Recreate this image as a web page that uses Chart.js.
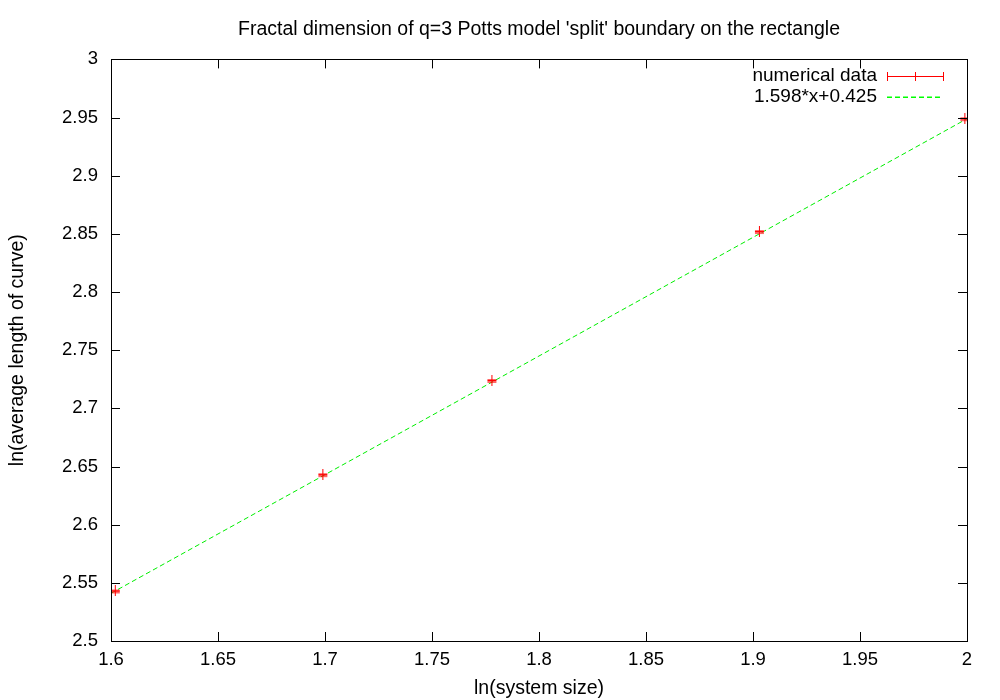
<!DOCTYPE html>
<html><head><meta charset="utf-8">
<script src="https://cdn.jsdelivr.net/npm/chart.js@4"></script>
<style>html,body{margin:0;padding:0;background:#fff}canvas{display:block}</style>
</head><body><canvas id="c" width="1000" height="700"></canvas>
<script>
const chartTitle = "Fractal dimension of q=3 Potts model 'split' boundary on the rectangle";
const xTitle = "ln(system size)";
const yTitle = "ln(average length of curve)";
const seriesNames = ["numerical data", "1.598*x+0.425"];
const dataX = [1.602, 1.699, 1.778, 1.903, 1.999];
const dataY = [2.543, 2.643, 2.724, 2.852, 2.949];
const fitX = [1.6, 2.0];
const fitY = [2.541, 2.949];
const xTicks = [1.6, 1.65, 1.7, 1.75, 1.8, 1.85, 1.9, 1.95, 2];
const yTicks = [2.5, 2.55, 2.6, 2.65, 2.7, 2.75, 2.8, 2.85, 2.9, 2.95, 3];

const FONT = "'Liberation Sans', Arial, Helvetica, sans-serif";

// marker: small red error-bar style cross
const mk = document.createElement('canvas');
mk.width = 11; mk.height = 11;
(function(){
  const c = mk.getContext('2d');
  c.fillStyle = 'rgba(255,0,0,0.6)';
  c.fillRect(1, 4, 9, 4);
  c.fillStyle = '#ff0000';
  c.fillRect(5, 0, 1, 11);
  c.fillRect(1, 5, 9, 1);
})();

const centerTitle = {
  id: 'centerTitle',
  afterLayout(chart) {
    const t = chart.titleBlock, a = chart.chartArea;
    if (t && a) { t.left = a.left; t.right = a.right; t.width = a.right - a.left; }
  }
};

const frame = {
  id: 'frame',
  afterDatasetsDraw(chart) {
    const {ctx, chartArea: a, scales} = chart;
    ctx.save();
    ctx.strokeStyle = '#000';
    ctx.lineWidth = 1;
    ctx.beginPath();
    const L = 9;
    xTicks.forEach(v => {
      const px = Math.round(scales.x.getPixelForValue(v)) + 0.5;
      ctx.moveTo(px, a.bottom); ctx.lineTo(px, a.bottom - L);
      ctx.moveTo(px, a.top); ctx.lineTo(px, a.top + L);
    });
    yTicks.forEach(v => {
      const py = Math.round(scales.y.getPixelForValue(v)) + 0.5;
      ctx.moveTo(a.left, py); ctx.lineTo(a.left + L, py);
      ctx.moveTo(a.right, py); ctx.lineTo(a.right - L, py);
    });
    ctx.stroke();
    ctx.strokeRect(Math.round(a.left)+0.5, Math.round(a.top)+0.5, Math.round(a.right-a.left), Math.round(a.bottom-a.top));
    // legend
    ctx.font = '19px ' + FONT;
    ctx.fillStyle = '#000';
    ctx.textAlign = 'right';
    ctx.textBaseline = 'middle';
    const tx = 877, x0 = 887, x1 = 943, y0 = 76, y1 = 97;
    ctx.fillText(seriesNames[0], tx, y0);
    ctx.fillText(seriesNames[1], tx, y1);
    ctx.fillStyle = '#ff0000';
    ctx.fillRect(x0, y0, x1 - x0 + 1, 1);
    ctx.fillRect(x0, y0 - 4, 1, 9);
    ctx.fillRect(x1, y0 - 4, 1, 9);
    ctx.fillRect(915, y0 - 4, 1, 9);
    ctx.fillStyle = '#00ff00';
    for (let x = x0; x < x1; x += 8) {
      ctx.fillRect(x, y1 - 0.5, Math.min(5, x1 - x), 1.5);
    }
    ctx.restore();
  }
};

new Chart(document.getElementById('c'), {
  type: 'scatter',
  data: {
    datasets: [
      {
        label: seriesNames[1],
        type: 'line',
        data: fitX.map((x, i) => ({x, y: fitY[i]})),
        borderColor: '#00ee00',
        borderWidth: 1,
        borderDash: [5, 3],
        pointRadius: 0,
        fill: false,
        order: 2
      },
      {
        label: seriesNames[0],
        data: dataX.map((x, i) => ({x, y: dataY[i]})),
        pointStyle: mk,
        pointRadius: 5,
        order: 1
      }
    ]
  },
  options: {
    responsive: false,
    maintainAspectRatio: false,
    animation: false,
    devicePixelRatio: 1,
    layout: { padding: { left: 0, right: 33, top: 0, bottom: 0 } },
    plugins: {
      legend: { display: false },
      tooltip: { enabled: false },
      title: {
        display: true,
        text: chartTitle,
        color: '#000',
        font: { family: FONT, size: 19.5, weight: 'normal' },
        padding: { top: 18, bottom: 18 }
      }
    },
    scales: {
      x: {
        type: 'linear', min: 1.6, max: 2,
        afterFit: s => { s.height = 59; },
        afterBuildTicks: s => { s.ticks = xTicks.map(v => ({value: v})); },
        grid: { display: false, drawTicks: false },
        border: { display: false },
        ticks: { color: '#000', padding: 8, autoSkip: false, font: { family: FONT, size: 18.5 }, maxRotation: 0, callback: v => String(+v.toFixed(2)) },
        title: { display: true, text: xTitle, color: '#000', font: { family: FONT, size: 19.5 }, padding: { top: 2, bottom: 0 } }
      },
      y: {
        type: 'linear', min: 2.5, max: 3,
        afterFit: s => { s.width = 111; },
        afterBuildTicks: s => { s.ticks = yTicks.map(v => ({value: v})); },
        grid: { display: false, drawTicks: false },
        border: { display: false },
        ticks: { color: '#000', padding: 13, autoSkip: false, font: { family: FONT, size: 18.5 }, callback: v => String(+v.toFixed(2)) },
        title: { display: true, text: yTitle, color: '#000', font: { family: FONT, size: 19.5 }, padding: { top: 6, bottom: 2 } }
      }
    }
  },
  plugins: [centerTitle, frame]
});
</script>
</body></html>
